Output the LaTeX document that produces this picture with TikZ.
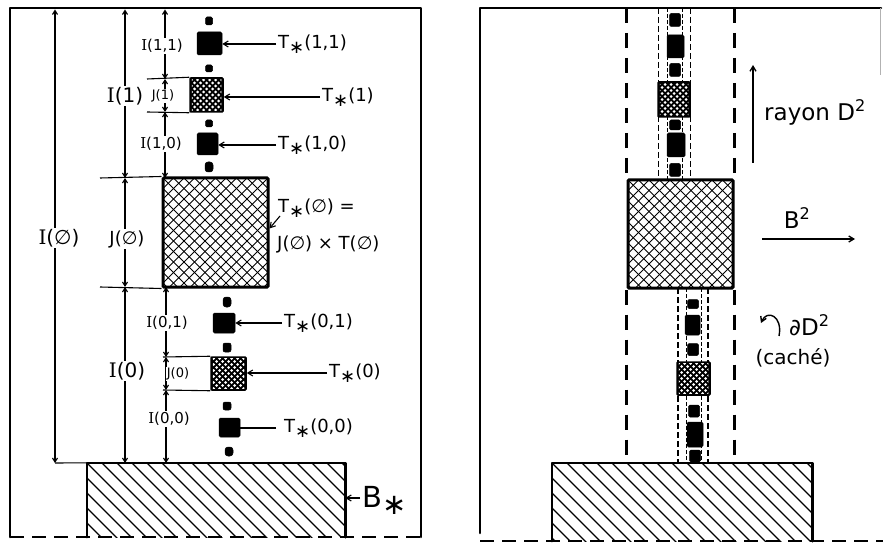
\documentclass[tikz,border=0pt]{standalone}
\usepackage{fontspec}
\setsansfont{DejaVu Sans}
\newfontfamily\serifI{DejaVu Serif}
\usepackage{graphicx}
\usetikzlibrary{arrows.meta}
\newcommand\RI{{\serifI I}}
\newcommand\st{\raisebox{-0.45ex}{∗}}
\newcommand\es{∅}
\newcommand\xhatch[4]{%
  \begin{scope}
    \clip (#1,#2) rectangle (#3,#4);
    \foreach \k in {-12,...,24}{%
      \draw[xh] (#1+\k*10.5,#2) -- ++(120,120);
      \draw[xh] (#1+\k*10.5,#2) -- ++(-120,120);}
  \end{scope}}
\newcommand\bhatch[4]{%
  \begin{scope}
    \clip (#1,#2) rectangle (#3,#4);
    \foreach \k in {-6,...,20}{%
      \draw[bh] (#1+\k*15,#2) -- ++(90,90);}
  \end{scope}}
\newcommand\dotsq[5]{%
  \node[hsq, minimum width=#4pt, minimum height=#5pt] (#1) at (#2,#3) {};
  \begin{scope}
    \clip ([shift={(2.5pt,-2.5pt)}]#1.north west) rectangle ([shift={(-2.5pt,2.5pt)}]#1.south east);
    \foreach \i in {-3,...,3}{\foreach \j in {-3,...,3}{%
      \fill[white] ([shift={(\i*6pt,\j*6pt)}]#1.center) circle (1.5pt);
      \fill[white] ([shift={(\i*6pt+3pt,\j*6pt+3pt)}]#1.center) circle (1.5pt);}}
  \end{scope}}
\begin{document}
\begin{tikzpicture}[x=1pt,y=-1pt,
  frame/.style={line width=2.6pt, line cap=round, line join=round},
  dashframe/.style={line width=2.6pt, dash pattern=on 14pt off 8pt},
  bigdash/.style={line width=3pt, dash pattern=on 15pt off 10pt},
  coldash/.style={line width=1.6pt, dash pattern=on 6pt off 3pt},
  indash/.style={line width=0.9pt, dash pattern=on 4pt off 2pt},
  dimline/.style={line width=1.1pt, {Straight Barb[length=4pt,width=5pt]}-{Straight Barb[length=4pt,width=5pt]}},
  ext/.style={line width=1.1pt},
  ptr/.style={line width=1.1pt, -{Straight Barb[length=5pt,width=6pt]}},
  xh/.style={line width=1pt},
  bh/.style={line width=1.1pt},
  sq/.style={fill=black, draw=black, line width=0.5pt, rounded corners=1.5pt, inner sep=0pt},
  hsq/.style={fill=black, draw=black, line width=1.5pt, rounded corners=1pt, inner sep=0pt},
  bigsq/.style={draw=black, line width=3pt, rounded corners=1pt, inner sep=0pt},
  lb/.style={inner sep=1pt, fill=white},
  fhuge/.style={font=\sffamily\fontsize{29}{29}\selectfont},
  flarge/.style={font=\sffamily\fontsize{23}{23}\selectfont},
  fbig/.style={font=\sffamily\fontsize{20}{20}\selectfont},
  fmid/.style={font=\sffamily\fontsize{18}{18}\selectfont},
  fsmall/.style={font=\sffamily\fontsize{15}{15}\selectfont},
  ftiny/.style={font=\sffamily\fontsize{13}{13}\selectfont},
]
\useasboundingbox (0,0) rectangle (883,545);

% ---------------- LEFT PANEL ----------------
\coordinate (LTL) at (10,8); \coordinate (LTR) at (421,8);
\coordinate (LBL) at (10,537); \coordinate (LBR) at (421,537);
\draw[frame] (LBL) -- (LTL) -- (LTR) -- (LBR);
\draw[dashframe] (LBL) -- (LBR);

% base B_*
\bhatch{87}{463}{345}{537}
\node[minimum width=258pt, minimum height=74pt, inner sep=0pt] (baseL) at (216,500) {};
\draw[frame] (baseL.south west) -- (baseL.north west) -- (baseL.north east) -- (baseL.south east);

% big square T_*(empty)
\xhatch{163}{178}{268}{287}
\node[bigsq, minimum width=105pt, minimum height=109pt] (T0) at (215.5,232.5) {};

% upper column
\node[sq, minimum width=7pt, minimum height=8pt] (d1) at (209,21) {};
\node[sq, minimum width=25pt, minimum height=23pt] (t11) at (209.5,43.5) {};
\node[sq, minimum width=7pt, minimum height=7pt] (d2) at (209,68.5) {};
\dotsq{t1}{206.5}{95}{33}{34}
\node[sq, minimum width=7pt, minimum height=7pt] (d3) at (209,123.5) {};
\node[sq, minimum width=21pt, minimum height=22pt] (t10) at (207.5,144) {};
\node[sq, minimum width=8pt, minimum height=10pt, rounded corners=3pt] (d4) at (209,167) {};

% lower column
\node[sq, minimum width=8pt, minimum height=10pt, rounded corners=3pt] (d5) at (227,302) {};
\node[sq, minimum width=22pt, minimum height=20pt] (t01) at (224,323) {};
\node[sq, minimum width=8pt, minimum height=9pt, rounded corners=2pt] (d6) at (227,347.5) {};
\dotsq{t0}{228.5}{373.5}{35}{33}
\node[sq, minimum width=8pt, minimum height=8pt, rounded corners=2pt] (d7) at (227,406) {};
\node[sq, minimum width=21pt, minimum height=19pt] (t00) at (229.5,427.5) {};
\node[sq, minimum width=8pt, minimum height=9pt, rounded corners=3pt] (d8) at (229,451.5) {};

% dimension lines
\coordinate (a0) at (55,9.5);  \coordinate (a1) at (55,463);
\coordinate (b0) at (125,9.5); \coordinate (b1) at (125,178);
\coordinate (b2) at (125,287); \coordinate (b3) at (125,463);
\coordinate (c0) at (165,9.5); \coordinate (c1) at (165,79);
\coordinate (c2) at (165,112); \coordinate (c3) at (165,178);
\coordinate (e0) at (166,287); \coordinate (e1) at (166,357);
\coordinate (e2) at (166,390); \coordinate (e3) at (166,463);
\draw[dimline] (a0) -- (a1);
\draw[dimline] (b0) -- (b1);
\draw[dimline] (b1) -- (b2);
\draw[dimline] (b2) -- (b3);
\draw[dimline] (c0) -- (c1);
\draw[dimline] (c1) -- (c2);
\draw[dimline] (c2) -- (c3);
\draw[dimline] (e0) -- (e1);
\draw[dimline] (e1) -- (e2);
\draw[dimline] (e2) -- (e3);
% extension lines
\coordinate (x1) at (147,79);  \coordinate (x2) at (147,112);
\coordinate (x3) at (100,178); \coordinate (x4) at (100,287);
\coordinate (x5) at (163,357); \coordinate (x6) at (163,390);
\draw[ext] (a1) -- (baseL.north west);
\draw[ext] (x1) -- (t1.north west);
\draw[ext] (x2) -- (t1.south west);
\draw[ext] (x3) -- (T0.north west);
\draw[ext] (x4) -- (T0.south west);
\draw[ext] (x5) -- (t0.north west);
\draw[ext] (x6) -- (t0.south west);

% dimension labels
\node[lb, fbig] (lIe) at (59,238) {\RI(\es)};
\node[lb, fbig] (lI1) at (125,96) {\RI(1)};
\node[lb, fmid] (lJe) at (127,239) {J(\es)};
\node[lb, fbig] (lI0) at (127,371) {\RI(0)};
\node[lb, fsmall] (lI11) at (162,46) {\RI(1,1)};
\node[lb, ftiny] (lJ1) at (163,96) {J(1)};
\node[lb, fsmall] (lI10) at (161,144) {\RI(1,0)};
\node[lb, fsmall] (lI01) at (167,323) {\RI(0,1)};
\node[lb, ftiny] (lJ0) at (178,374) {J(0)};
\node[lb, fsmall] (lI00) at (169,419) {\RI(0,0)};

% T labels
\node[fmid, inner sep=0pt, anchor=west] (lT11) at (278,44) {T\st(1,1)};
\node[fmid, inner sep=0pt, anchor=west] (lT1) at (322,97) {T\st(1)};
\node[fmid, inner sep=0pt, anchor=west] (lT10) at (278,145) {T\st(1,0)};
\node[fmid, inner sep=0pt, anchor=west] (lTe) at (278,208) {T\st(\es) =};
\node[fmid, inner sep=0pt, anchor=west] (lTe2) at (277,244) {J(\es) × T(\es)};
\node[fmid, inner sep=0pt, anchor=west] (lT01) at (284,323) {T\st(0,1)};
\node[fmid, inner sep=0pt, anchor=west] (lT0) at (329,373) {T\st(0)};
\node[fmid, inner sep=0pt, anchor=west] (lT00) at (284,428) {T\st(0,0)};
\node[fhuge, inner sep=0pt, anchor=west] (lB) at (362,500) {B\st};

\draw[ptr] ([xshift=-2pt]lT11.west) -- (lT11.west -| t11.east);
\draw[ptr] ([xshift=-2pt]lT1.west) -- (lT1.west -| t1.east);
\draw[ptr] ([xshift=-2pt]lT10.west) -- (lT10.west -| t10.east);
\draw[ptr] ([xshift=2pt,yshift=-8pt]lTe.west) -- ([yshift=4pt]T0.east);
\draw[ptr] ([xshift=-2pt]lT01.west) -- (lT01.west -| t01.east);
\draw[ptr] ([xshift=-2pt]lT0.west) -- (lT0.west -| t0.east);
\draw[ext] ([xshift=-8pt]lT00.west) -- (lT00.west -| t00.east);
\draw[ptr] ([xshift=-2pt,yshift=2pt]lB.west) -- ([yshift=2pt]lB.west -| baseL.east);

% ---------------- RIGHT PANEL ----------------
\coordinate (RTL) at (480,8); \coordinate (RTR) at (881,8);
\coordinate (RBL) at (480,541); \coordinate (RBR) at (883,541);
\coordinate (RLL) at (480,533);
\draw[frame] (RLL) -- (RTL) -- (RTR);
\draw[dashframe] (RBL) -- (RBR);
\draw[gray!60, line width=1pt] (880,8) -- (880,75);

% base
\bhatch{552}{463}{812}{541}
\node[minimum width=260pt, minimum height=78pt, inner sep=0pt] (baseR) at (682,502) {};
\draw[frame] (baseR.south west) -- (baseR.north west) -- (baseR.north east) -- (baseR.south east);

% big square
\xhatch{628}{180}{733}{288}
\node[bigsq, minimum width=105pt, minimum height=108pt] (RT0) at (680.5,234) {};

% outer dashed boundary
\draw[bigdash] (RT0.north west |- RTL) -- (RT0.north west);
\draw[bigdash] (RT0.north east |- RTL) -- (RT0.north east);
\draw[bigdash] (RT0.south west) -- (RT0.south west |- baseR.north);
\draw[bigdash] (RT0.south east) -- (RT0.south east |- baseR.north);

% upper strip
\coordinate (u1) at (658.5,8); \coordinate (u2) at (658.5,180);
\coordinate (u3) at (690.5,8); \coordinate (u4) at (690.5,180);
\coordinate (u5) at (667,8);   \coordinate (u6) at (667,180);
\coordinate (u7) at (682.5,8); \coordinate (u8) at (682.5,180);
\draw[coldash] (u1) -- (u2);
\draw[coldash] (u3) -- (u4);
\draw[indash] (u5) -- (u6);
\draw[indash] (u7) -- (u8);
\node[sq, minimum width=11pt, minimum height=13pt] (rd1) at (675,20) {};
\node[sq, minimum width=17pt, minimum height=23pt] (rt11) at (675.5,46.5) {};
\node[sq, minimum width=11pt, minimum height=13pt] (rd2) at (675,70) {};
\dotsq{rt1}{674}{99.5}{32}{35}
\node[sq, minimum width=11pt, minimum height=10pt] (rd3) at (675,125) {};
\node[sq, minimum width=18pt, minimum height=24pt] (rt10) at (676,145) {};
\node[sq, minimum width=11pt, minimum height=13pt] (rd4) at (675,170) {};

% lower strip
\coordinate (w1) at (678,288); \coordinate (w2) at (678,463);
\coordinate (w3) at (708,288); \coordinate (w4) at (708,463);
\coordinate (w5) at (686.5,288); \coordinate (w6) at (686.5,463);
\coordinate (w7) at (701,288); \coordinate (w8) at (701,463);
\draw[coldash] (w1) -- (w2);
\draw[coldash] (w3) -- (w4);
\draw[indash] (w5) -- (w6);
\draw[indash] (w7) -- (w8);
\node[sq, minimum width=11pt, minimum height=9pt] (rd5) at (693,304) {};
\node[sq, minimum width=15pt, minimum height=20pt] (rt01) at (692.5,325) {};
\node[sq, minimum width=11pt, minimum height=12pt] (rd6) at (693,349.5) {};
\dotsq{rt0}{693.5}{378.5}{33}{33}
\node[sq, minimum width=11pt, minimum height=12pt] (rd7) at (694,411) {};
\node[sq, minimum width=16pt, minimum height=25pt] (rt00) at (695,434.5) {};
\node[sq, minimum width=11pt, minimum height=12pt] (rd8) at (695,456) {};

% right labels
\coordinate (ra0) at (753,163); \coordinate (ra1) at (753,65);
\draw[ptr, line width=1.3pt] (ra0) -- (ra1);
\node[flarge, inner sep=0pt, anchor=west] (lray) at (764,112) {rayon D\textsuperscript{2}};
\node[flarge, inner sep=0pt] (lB2) at (797,218) {B\textsuperscript{2}};
\coordinate (rb0) at (762,239); \coordinate (rb1) at (855,239);
\draw[ptr, line width=1.3pt] (rb0) -- (rb1);
\coordinate (rc0) at (779,336); \coordinate (rc1) at (761,323);
\draw[ptr, line width=1.4pt] (rc0) .. controls (783,316) and (767,309) .. (rc1);
\node[flarge, inner sep=0pt, anchor=west] (ldD) at (789,325) {∂D\textsuperscript{2}};
\node[fbig, inner sep=0pt] (lcache) at (793,358) {(caché)};
\end{tikzpicture}
\end{document}
